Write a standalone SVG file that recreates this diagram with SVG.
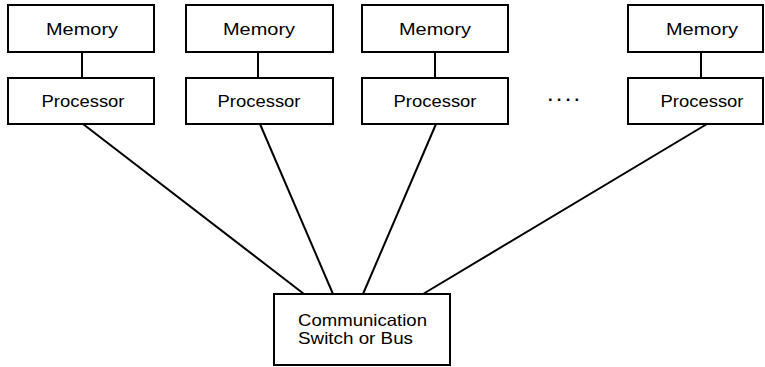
<svg xmlns="http://www.w3.org/2000/svg" width="765" height="367" viewBox="0 0 765 367">
<style>
.box{fill:#fff;stroke:#000;stroke-width:2}
.ln{stroke:#000;stroke-width:2;fill:none}
.t{font-family:"Liberation Sans",Arial,sans-serif;font-size:16.5px;fill:#000}
.c{text-anchor:middle}
</style>
<g id="connectors">
<line class="ln" x1="82" y1="52" x2="82" y2="78"/>
<line class="ln" x1="258" y1="52" x2="258" y2="78"/>
<line class="ln" x1="435" y1="52" x2="435" y2="78"/>
<line class="ln" x1="701" y1="52" x2="701" y2="78"/>
<line class="ln" x1="83" y1="124" x2="304" y2="294"/>
<line class="ln" x1="260" y1="124" x2="333" y2="294"/>
<line class="ln" x1="436" y1="124" x2="363" y2="294"/>
<line class="ln" x1="707" y1="124" x2="423" y2="294"/>
</g>
<g id="mem1"><rect class="box" x="8" y="5" width="146" height="47"/><text class="t c" x="82" y="35" textLength="72" lengthAdjust="spacingAndGlyphs">Memory</text></g>
<g id="proc1"><rect class="box" x="8" y="78" width="146" height="46"/><text class="t c" x="83" y="107" textLength="83" lengthAdjust="spacingAndGlyphs">Processor</text></g>
<g id="mem2"><rect class="box" x="186" y="5" width="147" height="47"/><text class="t c" x="259" y="35" textLength="72" lengthAdjust="spacingAndGlyphs">Memory</text></g>
<g id="proc2"><rect class="box" x="186" y="78" width="147" height="46"/><text class="t c" x="259" y="107" textLength="83" lengthAdjust="spacingAndGlyphs">Processor</text></g>
<g id="mem3"><rect class="box" x="362" y="5" width="146" height="47"/><text class="t c" x="435" y="35" textLength="72" lengthAdjust="spacingAndGlyphs">Memory</text></g>
<g id="proc3"><rect class="box" x="362" y="78" width="146" height="46"/><text class="t c" x="435" y="107" textLength="83" lengthAdjust="spacingAndGlyphs">Processor</text></g>
<g id="dots"><text class="t" x="548" y="105" font-weight="bold" textLength="32" lengthAdjust="spacing">····</text></g>
<g id="mem4"><rect class="box" x="628" y="5" width="135" height="47"/><text class="t c" x="702" y="35" textLength="72" lengthAdjust="spacingAndGlyphs">Memory</text></g>
<g id="proc4"><rect class="box" x="628" y="78" width="135" height="46"/><text class="t c" x="702" y="107" textLength="83" lengthAdjust="spacingAndGlyphs">Processor</text></g>
<g id="bus"><rect class="box" x="274" y="294" width="176" height="71"/>
<text class="t" x="298" y="326" textLength="129" lengthAdjust="spacingAndGlyphs">Communication</text>
<text class="t" x="298" y="344" textLength="115" lengthAdjust="spacingAndGlyphs">Switch or Bus</text></g>
</svg>
